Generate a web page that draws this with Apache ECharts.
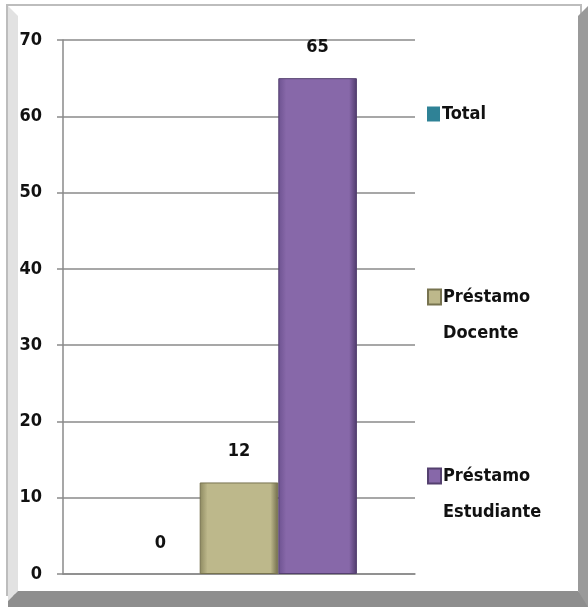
<!DOCTYPE html>
<html>
<head>
<meta charset="utf-8">
<script src="https://cdn.jsdelivr.net/npm/echarts@6/dist/echarts.min.js"></script>
<style>
html,body{margin:0;padding:0;background:#fff;}
#c{width:588px;height:607px;}
</style>
</head>
<body>
<div id="c"></div>
<script>
var categories = [''];
var seriesNames = ['Total', 'Préstamo Docente', 'Préstamo Estudiante'];
var totalValues = [0];
var docenteValues = [12];
var estudianteValues = [65];
var yTicks = [0, 10, 20, 30, 40, 50, 60, 70];

var FONT = '"DejaVu Sans Condensed", "DejaVu Sans", sans-serif';
var chart = echarts.init(document.getElementById('c'));

function grad(edgeL, mid, edgeR) {
  return new echarts.graphic.LinearGradient(0, 0, 1, 0, [
    {offset: 0, color: edgeL},
    {offset: 0.1, color: mid},
    {offset: 0.9, color: mid},
    {offset: 1, color: edgeR}
  ]);
}

var labelStyle = {
  show: true, position: 'top', distance: 22,
  fontFamily: FONT, fontWeight: 'bold', fontSize: 18, color: '#111'
};

// Two-word names: a blank first line keeps the icon beside the first word
function legendFmt(name) {
  var parts = name.split(' ');
  return parts.length > 1 ? '\n' + parts.join('\n') : name;
}

function legendItem(name, top) {
  return {
    orient: 'vertical', left: 422, top: top, itemWidth: 13, itemHeight: 15, itemGap: 0,
    icon: 'rect', formatter: legendFmt, data: [name],
    textStyle: {fontFamily: FONT, fontWeight: 'bold', fontSize: 18, color: '#111', lineHeight: 36,
                padding: [0, 0, 0, -3]}
  };
}

chart.setOption({
  animation: false,
  graphic: [
    {type: 'rect', shape: {x: 7, y: 5, width: 574, height: 590}, style: {fill: '#fff', stroke: '#bdbdbd', lineWidth: 2}, z: -10},
    {type: 'polygon', shape: {points: [[8,6],[18,16],[18,591],[8,601]]}, style: {fill: '#e2e2e2'}, z: -9},
    {type: 'polygon', shape: {points: [[8,601],[18,591],[578,591],[588,601],[588,607],[8,607]]}, style: {fill: '#8e8e8e'}, z: -9},
    {type: 'polygon', shape: {points: [[578,16],[588,6],[588,607],[578,591]]}, style: {fill: '#9a9a9a'}, z: -9}
  ],
  legend: [
    legendItem(seriesNames[0], 91),
    legendItem(seriesNames[1], 238),
    legendItem(seriesNames[2], 417)
  ],
  grid: {left: 63, right: 173, top: 40, bottom: 33, containLabel: false},
  xAxis: {
    type: 'category', data: categories,
    axisLine: {show: true, lineStyle: {color: '#8a8a8a', width: 1.5}},
    axisTick: {show: false}, axisLabel: {show: false}
  },
  yAxis: {
    type: 'value', min: 0, max: 70, interval: 10,
    axisLine: {show: true, lineStyle: {color: '#8a8a8a', width: 1.5}},
    axisTick: {show: true, length: 6, lineStyle: {color: '#8a8a8a', width: 1.5}},
    splitLine: {show: true, lineStyle: {color: '#8a8a8a', width: 1.5}},
    axisLabel: {
      margin: 21, fontFamily: FONT, fontWeight: 'bold', fontSize: 18, color: '#111',
      formatter: function (v) { return yTicks.indexOf(v) >= 0 ? String(v) : ''; }
    }
  },
  series: [
    {name: seriesNames[0], type: 'bar', data: totalValues, barGap: '0%', barCategoryGap: '33%',
     itemStyle: {color: '#2f8296', borderWidth: 0}, label: labelStyle},
    {name: seriesNames[1], type: 'bar', data: docenteValues, barGap: '0%', barCategoryGap: '33%',
     itemStyle: {color: grad('#8d8960', '#bdb88b', '#6f6b4a'), borderColor: '#77734f', borderWidth: 1}, label: labelStyle},
    {name: seriesNames[2], type: 'bar', data: estudianteValues, barGap: '0%', barCategoryGap: '33%',
     itemStyle: {color: grad('#6d5290', '#8768a9', '#4f3b6b'), borderColor: '#54406f', borderWidth: 1}, label: labelStyle}
  ]
});
</script>
</body>
</html>
